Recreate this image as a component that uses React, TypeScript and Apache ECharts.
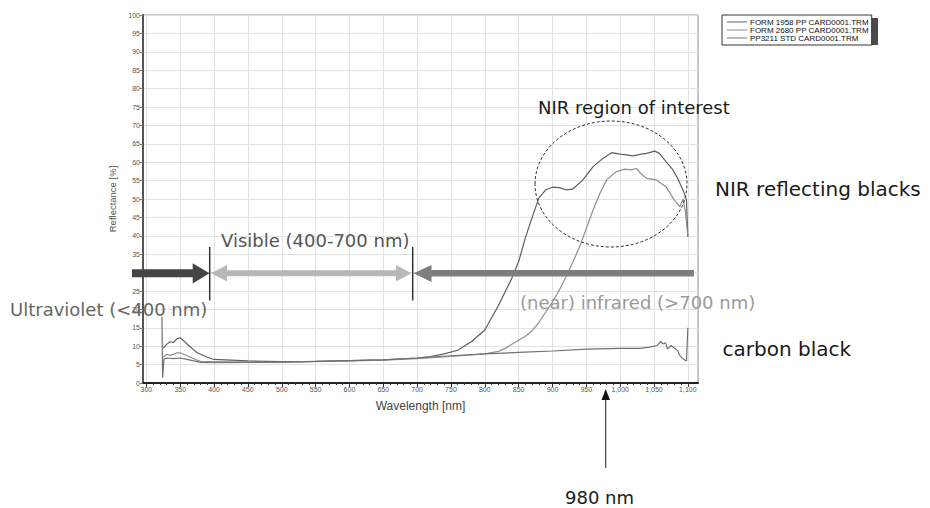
import React, { useEffect, useRef } from "react";
import * as echarts from "echarts";

// ---- Data ----
const seriesNames = [
  "FORM 1958 PP CARD0001.TRM",
  "FORM 2680 PP CARD0001.TRM",
  "PP3211 STD CARD0001.TRM",
];

const wavelengthsA = [
  325, 330, 335, 340, 345, 350, 355, 360, 365, 370, 375, 380, 390, 400, 450, 500, 550, 600, 650,
  700, 720, 740, 760, 780, 800, 820, 840, 850, 860, 870, 880, 890, 900, 910, 920, 930, 945, 960,
  975, 987, 1000, 1009, 1019, 1031, 1039, 1051, 1058, 1068, 1078, 1085, 1093, 1098, 1100,
];
const reflectanceA = [
  9.5, 10.5, 11.2, 11.0, 12.0, 12.3, 11.5, 10.6, 9.8, 9.0, 8.2, 7.8, 7.0, 6.4, 6.0, 5.8, 5.9, 6.1,
  6.3, 6.8, 7.2, 7.9, 8.9, 11.2, 14.4, 21.0, 28.5, 33.0, 39.5, 45.0, 50.3, 52.5, 53.2, 53.1, 52.5,
  52.7, 55.2, 58.8, 61.1, 62.6, 62.2, 62.0, 61.7, 62.2, 62.4, 63.0, 62.4, 60.1, 57.9, 55.6, 52.4,
  49.7, 39.7,
];

const wavelengthsB = [
  325, 330, 335, 340, 345, 350, 355, 360, 365, 370, 375, 380, 390, 400, 450, 500, 550, 600, 650,
  700, 750, 800, 820, 830, 840, 850, 860, 870, 880, 890, 900, 910, 920, 930, 940, 950, 960, 970,
  980, 994, 1007, 1016, 1024, 1030, 1039, 1053, 1060, 1068, 1080, 1088, 1093, 1096, 1100,
];
const reflectanceB = [
  7.0, 7.8, 7.5, 7.8, 8.2, 8.2, 7.8, 7.4, 7.0, 6.6, 6.2, 5.9, 5.8, 5.8, 5.7, 5.6, 5.8, 6.0, 6.2,
  6.6, 7.2, 7.9, 8.6, 9.4, 10.5, 11.6, 12.7, 14.2, 16.5, 19.3, 22.0, 25.2, 28.9, 32.8, 37.0, 42.0,
  47.0, 51.5, 55.2, 57.4, 58.1, 57.9, 58.3, 57.0, 55.6, 55.2, 54.3, 53.3, 49.7, 47.9, 50.0, 47.0,
  40.0,
];

const wavelengthsC = [
  323, 324, 326, 330, 340, 350, 360, 370, 380, 400, 450, 500, 550, 600, 650, 700, 750, 800, 850,
  900, 950, 1000, 1030, 1045, 1055, 1060, 1063, 1067, 1070, 1075, 1080, 1085, 1088, 1092, 1096,
  1098, 1100,
];
const reflectanceC = [
  18.0, 1.5, 6.5, 6.8, 6.6, 6.8, 6.4, 6.0, 5.6, 5.5, 5.6, 5.7, 5.9, 6.1, 6.3, 6.8, 7.4, 7.9, 8.3,
  8.7, 9.2, 9.4, 9.4, 9.8, 10.2, 11.3, 10.6, 10.9, 9.2, 10.2, 9.5, 8.8, 7.5, 6.7, 6.2, 6.0, 15.0,
];

const xTickValues = [
  300, 350, 400, 450, 500, 550, 600, 650, 700, 750, 800, 850, 900, 950, 1000, 1050, 1100,
];
const xMinorTickValues = Array.from({ length: 81 }, (_, i) => 300 + i * 10);

const zip = (xs: number[], ys: number[]) => xs.map((x, i) => [x, ys[i]]);

const FONT = "DejaVu Sans";
const AXFONT = "Liberation Sans";

export default function App() {
  const ref = useRef<HTMLDivElement>(null);

  useEffect(() => {
    if (!ref.current) return;
    const chart = echarts.init(ref.current, undefined, { renderer: "svg" });

    const colors = ["#5e5e5e", "#8f8f8f", "#707070"];
    const datas = [
      zip(wavelengthsA, reflectanceA),
      zip(wavelengthsB, reflectanceB),
      zip(wavelengthsC, reflectanceC),
    ];

    const text = (
      t: string,
      x: number,
      y: number,
      size: number,
      fill: string
    ) => ({
      type: "text",
      x,
      y,
      z: 20,
      silent: true,
      style: {
        text: t,
        fontSize: size,
        fontFamily: FONT,
        fill,
        align: "left",
        verticalAlign: "middle",
      },
    });

    const option: any = {
      animation: false,
      backgroundColor: "#ffffff",
      grid: {
        left: 143,
        right: 232,
        top: 15,
        bottom: 125,
        show: true,
        borderColor: "#8a8a8a",
        borderWidth: 1,
      },
      legend: {
        data: seriesNames,
        orient: "vertical",
        left: 722,
        top: 15,
        z: 10,
        padding: [3, 3, 3, 5],
        icon: "rect",
        itemWidth: 20,
        itemHeight: 1,
        itemGap: 0,
        selectedMode: false,
        backgroundColor: "#ffffff",
        borderColor: "#333333",
        borderWidth: 1,
        borderRadius: 0,
        textStyle: {
          fontSize: 8,
          fontFamily: AXFONT,
          color: "#111",
          padding: [0, 0, 0, -2],
        },
      },
      xAxis: [
        {
          type: "value",
          min: 295,
          max: 1115,
          name: "Wavelength [nm]",
          nameLocation: "middle",
          nameGap: 17,
          nameTextStyle: { fontSize: 12, fontFamily: AXFONT, color: "#444" },
          axisLine: { show: true, lineStyle: { color: "#222", width: 2 } },
          axisTick: {
            show: true,
            customValues: xTickValues,
            length: 4,
            lineStyle: { color: "#333" },
          },
          axisLabel: {
            customValues: xTickValues,
            fontSize: 7,
            fontFamily: AXFONT,
            color: "#555",
            margin: 3,
            formatter: (v: number) => v.toLocaleString("en-US"),
          },
          splitLine: { show: true, lineStyle: { color: "#e2e2e2", width: 1 } },
        },
        {
          type: "value",
          min: 295,
          max: 1115,
          position: "bottom",
          axisLine: { show: false },
          axisTick: {
            show: true,
            customValues: xMinorTickValues,
            length: 2,
            lineStyle: { color: "#333" },
          },
          axisLabel: { show: false },
          splitLine: { show: false },
        },
      ],
      yAxis: {
        type: "value",
        min: 0,
        max: 100,
        interval: 5,
        name: "Reflectance [%]",
        nameLocation: "middle",
        nameRotate: 90,
        nameGap: 22,
        nameTextStyle: { fontSize: 9.5, fontFamily: AXFONT, color: "#555" },
        axisLine: { show: true, lineStyle: { color: "#555", width: 2 } },
        axisTick: { show: true, length: 3, lineStyle: { color: "#777" } },
        axisLabel: {
          fontSize: 7,
          fontFamily: AXFONT,
          color: "#555",
          margin: 3,
        },
        splitLine: { show: true, lineStyle: { color: "#e2e2e2", width: 1 } },
      },
      series: seriesNames.map((name, i) => ({
        name,
        type: "line",
        xAxisIndex: 0,
        data: datas[i],
        symbol: "none",
        silent: true,
        lineStyle: { color: colors[i], width: 1.2 },
        itemStyle: { color: colors[i] },
        z: 3,
      })),
      graphic: {
        elements: [
          // legend drop shadow
          {
            type: "rect",
            z: 1,
            silent: true,
            shape: { x: 725, y: 18, width: 153, height: 27 },
            style: { fill: "#4a4a4a" },
          },
          // dashed circle around NIR region
          {
            type: "ellipse",
            z: 15,
            silent: true,
            shape: { cx: 611, cy: 184, rx: 76, ry: 63 },
            style: { fill: "none", stroke: "#333", lineWidth: 1, lineDash: [3, 2] },
          },
          // UV arrow (dark)
          {
            type: "rect",
            z: 15,
            silent: true,
            shape: { x: 132, y: 269.3, width: 62, height: 8 },
            style: { fill: "#454545" },
          },
          {
            type: "polygon",
            z: 15,
            silent: true,
            shape: { points: [[192.7, 263.3], [209.5, 273.3], [192.7, 283.5]] },
            style: { fill: "#454545" },
          },
          // Visible arrow (light, double headed)
          {
            type: "rect",
            z: 15,
            silent: true,
            shape: { x: 225, y: 270.3, width: 173, height: 6 },
            style: { fill: "#b8b8b8" },
          },
          {
            type: "polygon",
            z: 15,
            silent: true,
            shape: { points: [[211, 273.3], [227, 265], [227, 281.5]] },
            style: { fill: "#b8b8b8" },
          },
          {
            type: "polygon",
            z: 15,
            silent: true,
            shape: { points: [[411.5, 273.3], [396, 265], [396, 281.5]] },
            style: { fill: "#b8b8b8" },
          },
          // NIR arrow (medium grey)
          {
            type: "rect",
            z: 15,
            silent: true,
            shape: { x: 429, y: 270, width: 265, height: 6.5 },
            style: { fill: "#7e7e7e" },
          },
          {
            type: "polygon",
            z: 15,
            silent: true,
            shape: { points: [[413.5, 273.3], [431.5, 265], [431.5, 282]] },
            style: { fill: "#7e7e7e" },
          },
          // separators
          {
            type: "line",
            z: 16,
            silent: true,
            shape: { x1: 209.7, y1: 247, x2: 209.7, y2: 300.5 },
            style: { stroke: "#333", lineWidth: 1.5 },
          },
          {
            type: "line",
            z: 16,
            silent: true,
            shape: { x1: 412.7, y1: 247, x2: 412.7, y2: 300.5 },
            style: { stroke: "#333", lineWidth: 1.5 },
          },
          // 980 nm arrow
          {
            type: "line",
            z: 16,
            silent: true,
            shape: { x1: 605.7, y1: 468, x2: 605.7, y2: 398 },
            style: { stroke: "#444", lineWidth: 1.2 },
          },
          {
            type: "polygon",
            z: 16,
            silent: true,
            shape: { points: [[605.7, 389], [601.5, 400], [610, 400]] },
            style: { fill: "#111" },
          },
          text("NIR region of interest", 538, 107.5, 18, "#1a1a1a"),
          text("NIR reflecting blacks", 715, 189, 20, "#1a1a1a"),
          text("carbon black", 722.5, 349, 20, "#1a1a1a"),
          text("980 nm", 565, 497, 18, "#1a1a1a"),
          text("Visible (400-700 nm)", 221, 240.7, 18, "#555555"),
          text("Ultraviolet (<400 nm)", 10, 309, 18, "#666666"),
          text("(near) infrared (>700 nm)", 520, 302.5, 18, "#9a9a9a"),
        ],
      },
    };

    chart.setOption(option);
    return () => chart.dispose();
  }, []);

  return (
    <div
      ref={ref}
      style={{ position: "fixed", left: 0, top: 0, width: 930, height: 508, background: "#fff" }}
    />
  );
}
